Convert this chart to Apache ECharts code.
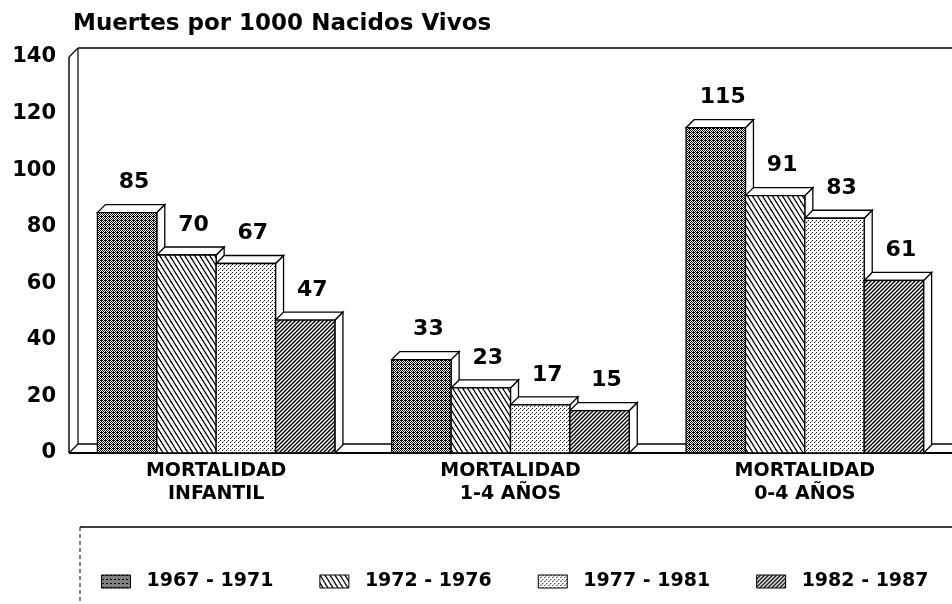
<!DOCTYPE html>
<html>
<head>
<meta charset="utf-8">
<script src="https://cdn.jsdelivr.net/npm/echarts@6/dist/echarts.min.js"></script>
<style>
html,body{margin:0;padding:0;background:#fff;}
#chart{width:952px;height:604px;}
</style>
</head>
<body>
<div id="chart"></div>
<script>
// ---- data ----
const categories = ['MORTALIDAD\nINFANTIL', 'MORTALIDAD\n1-4 AÑOS', 'MORTALIDAD\n0-4 AÑOS'];
const periods = ['1967 - 1971', '1972 - 1976', '1977 - 1981', '1982 - 1987'];
const values1967 = [85, 33, 115];
const values1972 = [70, 23, 91];
const values1977 = [67, 17, 83];
const values1982 = [47, 15, 61];
const yMin = 0, yMax = 140, yStep = 20;
const title = 'Muertes por 1000 Nacidos Vivos';

// ---- patterns ----
function tile(w, h, draw) {
  const c = document.createElement('canvas');
  c.width = w; c.height = h;
  const ctx = c.getContext('2d');
  ctx.fillStyle = '#fff'; ctx.fillRect(0, 0, w, h);
  draw(ctx, w, h);
  return { image: c, repeat: 'repeat' };
}
const patChecker = tile(4, 4, (ctx) => {
  ctx.fillStyle = '#000';
  for (let y = 0; y < 4; y++) for (let x = 0; x < 4; x++) {
    if ((x + y) % 2 === 0 || (x === 1 && y === 0)) ctx.fillRect(x, y, 1, 1);
  }
});
const patBack = tile(5, 8, (ctx, w, h) => {
  ctx.strokeStyle = '#000'; ctx.lineWidth = 1.2;
  for (let k = -1; k <= 1; k++) {
    ctx.beginPath(); ctx.moveTo(k * w - w, -h); ctx.lineTo(k * w + 2 * w, 2 * h); ctx.stroke();
  }
});
const patDots = tile(4, 4, (ctx) => {
  ctx.fillStyle = '#111';
  ctx.fillRect(0, 0, 1, 1); ctx.fillRect(2, 2, 1, 1);
  ctx.fillStyle = '#888';
  ctx.fillRect(3, 1, 1, 1);
});
const patFwd = tile(4, 4, (ctx, w, h) => {
  ctx.strokeStyle = '#000'; ctx.lineWidth = 1.35;
  for (let k = -1; k <= 1; k++) {
    ctx.beginPath(); ctx.moveTo(k * w - w, 2 * h); ctx.lineTo(k * w + 2 * w, -h); ctx.stroke();
  }
});
const patterns = [patChecker, patBack, patDots, patFwd];
const seriesValues = [values1967, values1972, values1977, values1982];

const FONT = 'DejaVu Sans';
const DEPTH = 8;
const GROUP_RATIO = 0.807;

function barRenderer(sIdx) {
  return function (params, api) {
    const ci = api.value(0), v = api.value(1);
    const base = api.coord([ci, 0]);
    const top = api.coord([ci, v]);
    const band = api.size([1, 0])[0];
    const gw = band * GROUP_RATIO;
    const bw = gw / 4;
    const x0 = base[0] - gw / 2 + sIdx * bw;
    const x1 = x0 + bw;
    const yt = top[1], yb = base[1], D = DEPTH;
    const line = { stroke: '#000', lineWidth: 1.3 };
    return {
      type: 'group',
      children: [
        { type: 'polygon', shape: { points: [[x1, yt], [x1 + D, yt - D], [x1 + D, yb - D], [x1, yb]] },
          style: Object.assign({ fill: '#fff' }, line) },
        { type: 'polygon', shape: { points: [[x0, yt], [x1, yt], [x1 + D, yt - D], [x0 + D, yt - D]] },
          style: Object.assign({ fill: '#fff' }, line) },
        { type: 'rect', shape: { x: x0, y: yt, width: bw, height: yb - yt },
          style: Object.assign({ fill: patterns[sIdx] }, line) },
        { type: 'text', x: (x0 + x1) / 2 + 7, y: yt - 30,
          style: { text: String(v), fill: '#000', font: 'bold 22px "' + FONT + '"',
                   align: 'center', verticalAlign: 'middle' } }
      ]
    };
  };
}

function frameRenderer(params, api) {
  const cs = params.coordSys;
  const gx = cs.x, gy = cs.y, gh = cs.height, right = cs.x + cs.width + 10;
  const W = 9;
  const L = (x1, y1, x2, y2, lw) => ({ type: 'line', shape: { x1, y1, x2, y2 },
    style: { stroke: '#000', lineWidth: lw || 1.4 } });
  return {
    type: 'group',
    children: [
      L(gx, gy, gx, gy + gh, 1.4),
      L(gx + W, gy - W, gx + W, gy + gh - W, 1.2),
      L(gx, gy, gx + W, gy - W, 1.2),
      L(gx + W, gy - W, right, gy - W, 1.4),
      L(gx, gy + gh, gx + W, gy + gh - W, 1.2),
      L(gx + W, gy + gh - W, right, gy + gh - W, 1.4),
      L(gx, gy + gh, right, gy + gh, 2)
    ]
  };
}

const series = [{
  type: 'custom', name: '_frame', z: 1, silent: true,
  renderItem: frameRenderer, data: [[0, 0]], encode: { x: 0, y: 1 }
}];
periods.forEach((p, i) => {
  series.push({
    type: 'custom', name: p, z: 2, silent: true,
    itemStyle: { color: patterns[i], borderColor: '#000', borderWidth: 1 },
    renderItem: barRenderer(i),
    encode: { x: 0, y: 1 },
    data: seriesValues[i].map((v, ci) => [ci, v])
  });
});

const chart = echarts.init(document.getElementById('chart'), null, { renderer: 'canvas' });
chart.setOption({
  backgroundColor: '#fff',
  animation: false,
  title: {
    text: title, left: 68, top: 8,
    textStyle: { fontFamily: FONT, fontWeight: 'bold', fontSize: 23, color: '#000' }
  },
  grid: { left: 69, right: -2, top: 57, bottom: 151, containLabel: false },
  xAxis: {
    type: 'category', data: categories,
    axisLine: { show: false }, axisTick: { show: false }, splitLine: { show: false },
    axisLabel: { margin: 7, fontFamily: FONT, fontWeight: 'bold', fontSize: 19, lineHeight: 23, color: '#000', interval: 0 }
  },
  yAxis: {
    type: 'value', min: yMin, max: yMax, interval: yStep,
    axisLine: { show: false }, axisTick: { show: false }, splitLine: { show: false },
    axisLabel: { margin: 13, fontFamily: FONT, fontWeight: 'bold', fontSize: 21, color: '#000' }
  },
  legend: {
    left: 96, top: 567, icon: 'rect', itemWidth: 29, itemHeight: 13, itemGap: 46,
    selectedMode: false,
    textStyle: { fontFamily: FONT, fontWeight: 'bold', fontSize: 19, color: '#000', padding: [0, 0, 0, 11] },
    data: periods.map((p, i) => ({ name: p, itemStyle: { color: patterns[i], borderColor: '#000', borderWidth: 1 } }))
  },
  graphic: [
    { type: 'line', shape: { x1: 80, y1: 527, x2: 952, y2: 527 }, style: { stroke: '#000', lineWidth: 1.6 } },
    { type: 'line', shape: { x1: 80, y1: 527, x2: 80, y2: 604 }, style: { stroke: '#000', lineWidth: 1, lineDash: [4, 3] } }
  ],
  series: series
});
</script>
</body>
</html>
